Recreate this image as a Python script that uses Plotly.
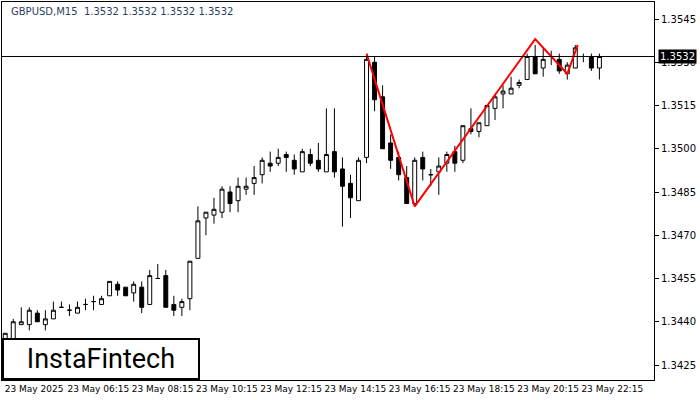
import plotly.graph_objects as go

# GBPUSD M15 candles, 23 May 2025 from 04:15
opens = [1.3433, 1.3434, 1.3439, 1.3439, 1.3443, 1.3439, 1.3441, 1.3445, 1.3444, 1.3443,
         1.3446, 1.3447, 1.3446, 1.3449, 1.3453, 1.3452, 1.3450, 1.3452, 1.3446, 1.3455,
         1.3456, 1.3446, 1.3445, 1.3448, 1.3462, 1.3476, 1.3477, 1.3478, 1.3485, 1.3482,
         1.3486, 1.3488, 1.3491, 1.3495, 1.3495, 1.3498, 1.3496, 1.3492, 1.3498, 1.3496,
         1.3492, 1.3499, 1.3493, 1.3488, 1.3482, 1.3497, 1.3530, 1.3518, 1.3502, 1.3497,
         1.3490, 1.3481, 1.3497, 1.3491, 1.3492, 1.3495, 1.3499, 1.3496, 1.3507, 1.3506,
         1.3508, 1.3514, 1.3519, 1.3519, 1.3522, 1.3524, 1.3532, 1.3528, 1.3532, 1.3531,
         1.3526, 1.3528, 1.3532, 1.3532, 1.3528]
highs = [1.3436, 1.3441, 1.3445, 1.3445, 1.3444, 1.3444, 1.3447, 1.3447, 1.3446, 1.3447,
         1.3448, 1.3449, 1.3449, 1.3454, 1.3454, 1.3452, 1.3454, 1.3454, 1.3458, 1.3460,
         1.3458, 1.3449, 1.3448, 1.3461, 1.3480, 1.3478, 1.3483, 1.3487, 1.3487, 1.3490,
         1.3490, 1.3494, 1.3497, 1.3499, 1.3500, 1.3499, 1.3498, 1.3500, 1.3500, 1.3502,
         1.3514, 1.3514, 1.3497, 1.3491, 1.3497, 1.3532, 1.3532, 1.3522, 1.3505, 1.3499,
         1.3494, 1.3497, 1.3499, 1.3493, 1.3497, 1.3499, 1.3501, 1.3508, 1.3514, 1.3509,
         1.3515, 1.3519, 1.3522, 1.3525, 1.3524, 1.3533, 1.3536, 1.3535, 1.3534, 1.3533,
         1.3530, 1.3536, 1.3533, 1.3533, 1.3533]
lows = [1.3432, 1.3433, 1.3439, 1.3437, 1.3440, 1.3437, 1.3441, 1.3445, 1.3442, 1.3443,
        1.3444, 1.3444, 1.3446, 1.3449, 1.3449, 1.3449, 1.3447, 1.3443, 1.3446, 1.3455,
        1.3445, 1.3442, 1.3442, 1.3444, 1.3462, 1.3470, 1.3474, 1.3476, 1.3478, 1.3478,
        1.3484, 1.3484, 1.3488, 1.3492, 1.3494, 1.3492, 1.3491, 1.3492, 1.3494, 1.3492,
        1.3492, 1.3490, 1.3473, 1.3476, 1.3482, 1.3495, 1.3513, 1.3500, 1.3493, 1.3489,
        1.3481, 1.3480, 1.3489, 1.3487, 1.3484, 1.3492, 1.3492, 1.3495, 1.3505, 1.3504,
        1.3508, 1.3510, 1.3514, 1.3519, 1.3521, 1.3524, 1.3526, 1.3525, 1.3529, 1.3526,
        1.3524, 1.3528, 1.3530, 1.3527, 1.3524]
closes = [1.3436, 1.3440, 1.3440, 1.3444, 1.3440, 1.3441, 1.3444, 1.3445, 1.3444, 1.3445,
          1.3446, 1.3447, 1.3448, 1.3454, 1.3451, 1.3449, 1.3453, 1.3445, 1.3456, 1.3455,
          1.3445, 1.3444, 1.3447, 1.3461, 1.3475, 1.3478, 1.3479, 1.3486, 1.3481, 1.3487,
          1.3487, 1.3490, 1.3496, 1.3494, 1.3497, 1.3497, 1.3493, 1.3499, 1.3495, 1.3493,
          1.3498, 1.3492, 1.3487, 1.3483, 1.3496, 1.3531, 1.3517, 1.3500, 1.3496, 1.3491,
          1.3481, 1.3496, 1.3493, 1.3491, 1.3494, 1.3498, 1.3495, 1.3508, 1.3506, 1.3509,
          1.3515, 1.3518, 1.3520, 1.3521, 1.3523, 1.3532, 1.3526, 1.3531, 1.3532, 1.3527,
          1.3529, 1.3535, 1.3532, 1.3528, 1.3532]

# pattern line (candle index, price)
pattern_x = [45, 51, 66, 70, 71.3]
pattern_y = [1.3533, 1.3480, 1.3538, 1.3526, 1.3536]

tick_idx = [0, 8, 16, 24, 32, 40, 48, 56, 64, 72]
tick_text = ["23 May 2025", "23 May 06:15", "23 May 08:15", "23 May 10:15", "23 May 12:15",
             "23 May 14:15", "23 May 16:15", "23 May 18:15", "23 May 20:15", "23 May 22:15"]
price_ticks = [1.3425, 1.3440, 1.3455, 1.3470, 1.3485, 1.3500, 1.3515, 1.3530, 1.3545]
last_price = 1.3532

idx = list(range(len(opens)))

fig = go.Figure()
fig.add_trace(go.Candlestick(
    x=idx, open=opens, high=highs, low=lows, close=closes,
    increasing=dict(line=dict(color="black", width=1), fillcolor="white"),
    decreasing=dict(line=dict(color="black", width=1), fillcolor="black"),
    whiskerwidth=0, showlegend=False, hoverinfo="skip"))
fig.add_trace(go.Scatter(x=pattern_x, y=pattern_y, mode="lines",
                         line=dict(color="red", width=2), showlegend=False))

fig.add_hline(y=last_price, line=dict(color="black", width=1))

fig.update_layout(
    xaxis=dict(range=[-0.4, 80.8], autorange=False, tickmode="array", automargin=False,
               tickvals=[t + 3.6 for t in tick_idx], ticktext=tick_text, tickangle=0,
               showgrid=False, zeroline=False, rangeslider=dict(visible=False), ticks="",
               showline=True, linecolor="black", mirror=True,
               tickfont=dict(size=9, family="DejaVu Sans", color="black")),
    yaxis=dict(range=[1.34198, 1.35509], autorange=False, side="right", tickmode="array",
               automargin=False, tickvals=price_ticks, ticktext=[f"{p:.4f}" for p in price_ticks],
               showgrid=False, zeroline=False, ticks="outside", ticklen=4, tickcolor="black",
               showline=True, linecolor="black", mirror=True,
               tickfont=dict(size=10, family="DejaVu Sans", color="black")),
)

fig.add_annotation(x=1, xref="paper", y=last_price, text=f"{last_price:.4f}", showarrow=False,
                   xanchor="left", xshift=4, bgcolor="black",
                   font=dict(color="white", size=10, family="DejaVu Sans"), borderpad=1)
fig.add_annotation(x=0.01, xref="paper", y=0.995, yref="paper", text="GBPUSD,M15  1.3532 1.3532 1.3532 1.3532",
                   showarrow=False, xanchor="left", yanchor="top", font=dict(size=10, family="DejaVu Sans"))
fig.add_annotation(x=0.0, xref="paper", y=0.0, yref="paper", text="InstaFintech", showarrow=False,
                   xanchor="left", yanchor="bottom", bgcolor="white", bordercolor="black", borderwidth=2,
                   borderpad=3, font=dict(size=27, family="Roboto", color="black"), width=188)

fig.update_layout(width=700, height=400, margin=dict(l=2, r=46, t=2, b=20),
                  paper_bgcolor="white", plot_bgcolor="white")
fig.write_html("out.html", config={"displayModeBar": False},
               post_script="document.body.style.margin='0';document.body.style.overflow='hidden';")
